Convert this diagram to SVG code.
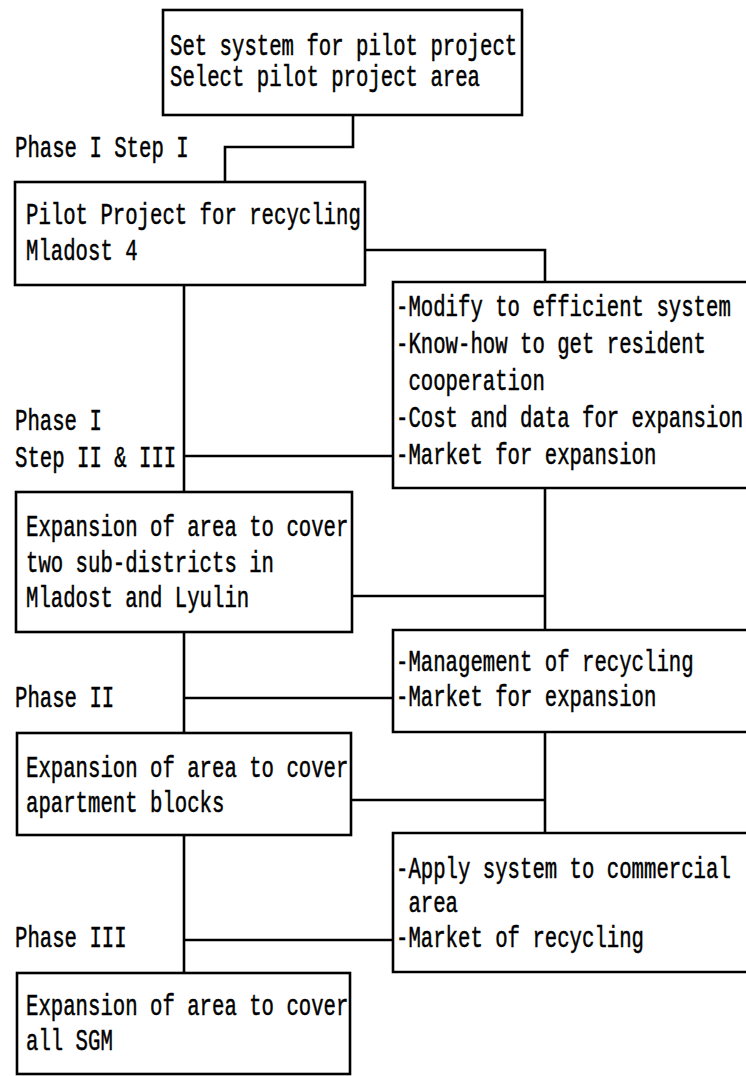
<svg xmlns="http://www.w3.org/2000/svg" width="746" height="1076" viewBox="0 0 746 1076">
  <style>
    .box { fill: #ffffff; stroke: #000000; stroke-width: 2.6; }
    .open { fill: #ffffff; stroke: #000000; stroke-width: 2.6; stroke-linejoin: miter; }
    .wire { fill: none; stroke: #000000; stroke-width: 2.6; stroke-linejoin: miter; }
    text { font-family: "Liberation Mono", "Courier New", monospace; font-size: 30px; fill: #000000; stroke: #000000; stroke-width: 0.5; }
  </style>
  <rect x="0" y="0" width="746" height="1076" fill="#ffffff"/>

  <!-- connectors -->
  <g id="connectors">
    <path class="wire" d="M353 115 V147 H225 V182"/>
    <path class="wire" d="M365 250 H545 V282"/>
    <path class="wire" d="M184 285 V492"/>
    <path class="wire" d="M184 456 H393"/>
    <path class="wire" d="M352 596 H545"/>
    <path class="wire" d="M545 488 V630"/>
    <path class="wire" d="M184 632 V733"/>
    <path class="wire" d="M184 698 H393"/>
    <path class="wire" d="M351 800 H545"/>
    <path class="wire" d="M545 732 V833"/>
    <path class="wire" d="M184 835 V973"/>
    <path class="wire" d="M184 940 H393"/>
  </g>

  <!-- phase labels -->
  <g id="labels">
    <text x="15" y="157" textLength="173.6" lengthAdjust="spacingAndGlyphs">Phase I Step I</text>
    <text x="15" y="430" textLength="86.8" lengthAdjust="spacingAndGlyphs">Phase I</text>
    <text x="15" y="467" textLength="161.2" lengthAdjust="spacingAndGlyphs">Step II &amp; III</text>
    <text x="15" y="707" textLength="99.2" lengthAdjust="spacingAndGlyphs">Phase II</text>
    <text x="15" y="947" textLength="111.6" lengthAdjust="spacingAndGlyphs">Phase III</text>
  </g>

  <!-- nodes -->
  <g id="setup">
    <rect class="box" x="163" y="10" width="359" height="105"/>
    <text x="170" y="55" textLength="347.2" lengthAdjust="spacingAndGlyphs">Set system for pilot project</text>
    <text x="170" y="86" textLength="310" lengthAdjust="spacingAndGlyphs">Select pilot project area</text>
  </g>

  <g id="pilot">
    <rect class="box" x="15" y="182" width="350" height="103"/>
    <text x="26" y="224" textLength="334.8" lengthAdjust="spacingAndGlyphs">Pilot Project for recycling</text>
    <text x="26" y="260" textLength="111.6" lengthAdjust="spacingAndGlyphs">Mladost 4</text>
  </g>

  <!-- right-hand boxes run past the right margin, so their right side is not drawn -->
  <g id="pilot-outcomes">
    <path class="open" d="M746 282 H393 V488 H746"/>
    <text x="396" y="316" textLength="334.8" lengthAdjust="spacingAndGlyphs">-Modify to efficient system</text>
    <text x="396" y="353" textLength="310" lengthAdjust="spacingAndGlyphs">-Know-how to get resident</text>
    <text x="408.4" y="390" textLength="136.4" lengthAdjust="spacingAndGlyphs">cooperation</text>
    <text x="396" y="427" textLength="347.2" lengthAdjust="spacingAndGlyphs">-Cost and data for expansion</text>
    <text x="396" y="464" textLength="260.4" lengthAdjust="spacingAndGlyphs">-Market for expansion</text>
  </g>

  <g id="expansion-subdistricts">
    <rect class="box" x="16" y="492" width="336" height="140"/>
    <text x="26" y="536" textLength="322.4" lengthAdjust="spacingAndGlyphs">Expansion of area to cover</text>
    <text x="26" y="572" textLength="248" lengthAdjust="spacingAndGlyphs">two sub-districts in</text>
    <text x="26" y="607" textLength="223.2" lengthAdjust="spacingAndGlyphs">Mladost and Lyulin</text>
  </g>

  <g id="phase2-outcomes">
    <path class="open" d="M746 630 H393 V732 H746"/>
    <text x="396" y="671" textLength="297.6" lengthAdjust="spacingAndGlyphs">-Management of recycling</text>
    <text x="396" y="706" textLength="260.4" lengthAdjust="spacingAndGlyphs">-Market for expansion</text>
  </g>

  <g id="expansion-apartments">
    <rect class="box" x="17" y="733" width="334" height="102"/>
    <text x="26" y="777" textLength="322.4" lengthAdjust="spacingAndGlyphs">Expansion of area to cover</text>
    <text x="26" y="812" textLength="198.4" lengthAdjust="spacingAndGlyphs">apartment blocks</text>
  </g>

  <g id="phase3-outcomes">
    <path class="open" d="M746 833 H393 V972 H746"/>
    <text x="396" y="878" textLength="334.8" lengthAdjust="spacingAndGlyphs">-Apply system to commercial</text>
    <text x="408.4" y="912" textLength="49.6" lengthAdjust="spacingAndGlyphs">area</text>
    <text x="396" y="947" textLength="248" lengthAdjust="spacingAndGlyphs">-Market of recycling</text>
  </g>

  <g id="expansion-sgm">
    <rect class="box" x="17" y="973" width="333" height="101"/>
    <text x="26" y="1015" textLength="322.4" lengthAdjust="spacingAndGlyphs">Expansion of area to cover</text>
    <text x="26" y="1050" textLength="86.8" lengthAdjust="spacingAndGlyphs">all SGM</text>
  </g>
</svg>
